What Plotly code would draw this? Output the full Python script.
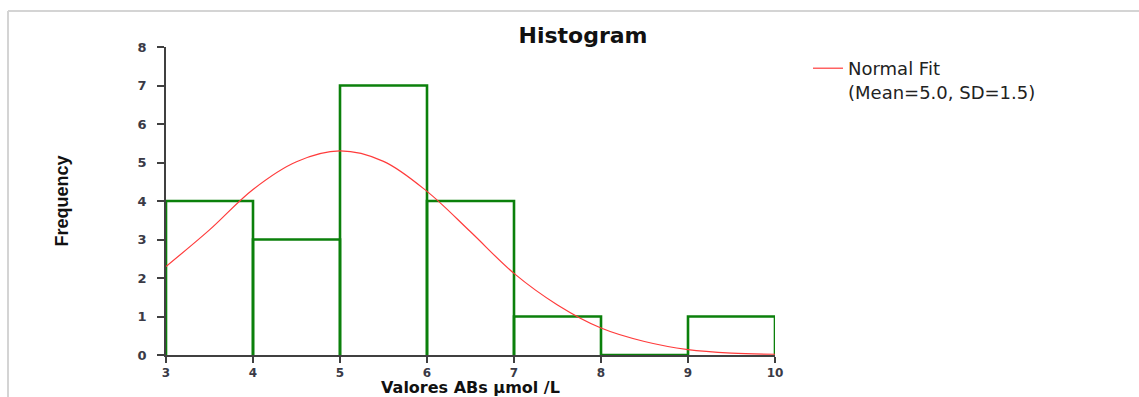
import plotly.graph_objects as go

# Histogram data
bin_edges = [3, 4, 5, 6, 7, 8, 9, 10]
counts = [4, 3, 7, 4, 1, 0, 1]

# Normal fit curve
fit_x = [3, 3.5, 4, 4.5, 5, 5.5, 6, 6.5, 7, 7.5, 8, 8.5, 9, 9.5, 10]
fit_y = [2.3, 3.25, 4.3, 5.02, 5.3, 5.03, 4.25, 3.2, 2.12, 1.3, 0.7, 0.35, 0.14, 0.05, 0.02]

x_ticks = [3, 4, 5, 6, 7, 8, 9, 10]
y_ticks = [0, 1, 2, 3, 4, 5, 6, 7, 8]

# Build rectangle outlines for each bin
rx, ry = [], []
for i, c in enumerate(counts):
    l, r = bin_edges[i], bin_edges[i + 1]
    rx += [l, l, r, r, None]
    ry += [0, c, c, 0, None]

fig = go.Figure()
fig.add_trace(go.Scatter(
    x=rx, y=ry, mode="lines",
    line=dict(color="#0b800b", width=2.6),
    showlegend=False, hoverinfo="skip",
))
fig.add_trace(go.Scatter(
    x=fit_x, y=fit_y, mode="lines", line_shape="spline",
    line=dict(color="#ff3b3b", width=1.2),
    name="Normal Fit<br>(Mean=5.0, SD=1.5)",
))

L, R, T, B = 166, 1139 - 775, 47, 397 - 355
pw = 1139 - L - R
ph = 397 - T - B

WIDE = "DejaVu Sans, Verdana, sans-serif"
xtickfont = dict(family=WIDE, size=12, color="#3a3a46", weight="bold")
ytickfont = dict(family=WIDE, size=13, color="#3a3a46", weight="bold")

fig.update_layout(
    width=1139, height=397,
    margin=dict(l=L, r=R, t=T, b=B, autoexpand=False),
    paper_bgcolor="white", plot_bgcolor="white",
    title=dict(
        text="<b>Histogram</b>", x=(583 - L) / pw, xref="paper", xanchor="center",
        y=1 - 35 / 397, yanchor="middle", yref="container",
        font=dict(family=WIDE, size=22, color="#111"),
    ),
    xaxis=dict(
        range=[3, 10], tickvals=x_ticks, showgrid=False, zeroline=False,
        showline=True, linecolor="#404040", linewidth=1.5,
        ticks="outside", ticklen=6, tickcolor="#404040", tickwidth=1.5,
        tickfont=xtickfont, automargin=False,
        title=dict(text="<b>Valores ABs µmol /L</b>", standoff=3,
                   font=dict(family=WIDE, size=16, color="#111")),
    ),
    yaxis=dict(
        range=[0, 8], tickvals=y_ticks, showgrid=False, zeroline=False,
        showline=True, linecolor="#404040", linewidth=1.5,
        ticks="outside", ticklen=7, tickcolor="#404040", tickwidth=1.5,
        tickfont=ytickfont, automargin=False, ticklabelstandoff=8,
        title=dict(text="<b>Frequency</b>", standoff=64,
                   font=dict(family="Liberation Sans, Arial, sans-serif", size=18, color="#111")),
    ),
    legend=dict(
        x=(808 - L) / pw, y=1 + (T - 50) / ph,
        xanchor="left", yanchor="top", valign="top",
        font=dict(family=WIDE, size=18, color="#222"),
        bgcolor="rgba(0,0,0,0)",
    ),
    shapes=[
        dict(type="line", xref="paper", yref="paper",
             x0=(8 - L) / pw, x1=(1139 - L) / pw, y0=(355 - 11) / ph, y1=(355 - 11) / ph,
             line=dict(color="#d4d4d4", width=2)),
        dict(type="line", xref="paper", yref="paper",
             x0=(8 - L) / pw, x1=(8 - L) / pw, y0=(355 - 11) / ph, y1=(355 - 397) / ph,
             line=dict(color="#d4d4d4", width=2)),
    ],
)

fig.write_html("out.html", config={"displayModeBar": False},
               post_script="document.body.style.margin='0';document.body.style.overflow='hidden';")
